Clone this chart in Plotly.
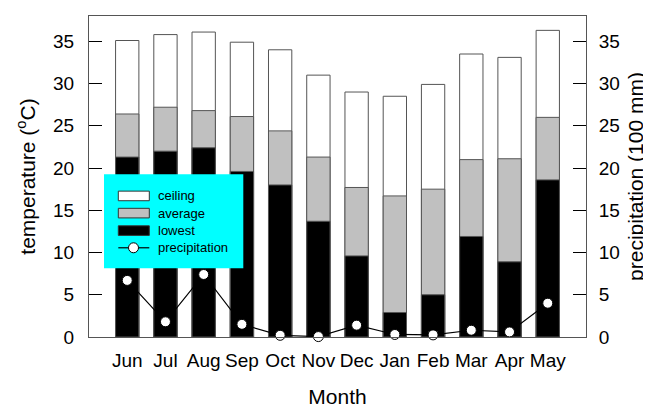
import plotly.graph_objects as go

months = ["Jun", "Jul", "Aug", "Sep", "Oct", "Nov", "Dec", "Jan", "Feb", "Mar", "Apr", "May"]
ceiling = [35.1, 35.8, 36.1, 34.9, 34.0, 31.0, 29.0, 28.5, 29.9, 33.5, 33.1, 36.3]
average = [26.4, 27.2, 26.8, 26.1, 24.4, 21.3, 17.7, 16.7, 17.5, 21.0, 21.1, 26.0]
lowest = [21.3, 22.0, 22.4, 19.6, 18.0, 13.7, 9.6, 2.9, 5.0, 11.9, 8.9, 18.6]
precipitation = [6.7, 1.8, 7.4, 1.5, 0.2, 0.05, 1.4, 0.3, 0.25, 0.8, 0.6, 4.0]

series_names = ["ceiling", "average", "lowest", "precipitation"]
FONT = "Liberation Sans, Arial, sans-serif"
OUTLINE = "#555555"

fig = go.Figure()
for name, vals, color in [("ceiling", ceiling, "white"),
                          ("average", average, "#c0c0c0"),
                          ("lowest", lowest, "black")]:
    fig.add_trace(go.Bar(x=months, y=vals, name=name, width=0.61,
                         marker=dict(color=color, line=dict(color=OUTLINE, width=1)),
                         showlegend=False))

fig.add_trace(go.Scatter(x=months, y=precipitation, name="precipitation", yaxis="y2",
                         mode="lines+markers", cliponaxis=False,
                         line=dict(color="black", width=1.2),
                         marker=dict(size=10, color="white", line=dict(color="black", width=1)),
                         showlegend=False))

tickvals = [0, 5, 10, 15, 20, 25, 30, 35]
fig.update_layout(
    width=643, height=400,
    margin=dict(l=81, r=65, t=8, b=71),
    paper_bgcolor="white", plot_bgcolor="white",
    barmode="overlay",
    font=dict(family=FONT, color="black", size=19),
    xaxis=dict(type="category", range=[-1, 12], showgrid=False, zeroline=False,
               showline=True, linecolor=OUTLINE, linewidth=1, mirror=True, ticks="",
               automargin=False,
               tickfont=dict(size=19), ticklabelstandoff=6,
               title=dict(text="Month", font=dict(size=21), standoff=26)),
    yaxis=dict(range=[0, 38], tickvals=tickvals, showgrid=False, zeroline=False,
               showline=True, linecolor=OUTLINE, linewidth=1, automargin=False,
               ticks="inside", ticklen=13, tickwidth=1.3, tickcolor="black",
               tickfont=dict(size=19), ticklabelstandoff=10,
               title=dict(text="temperature (<sup>o</sup>C)", font=dict(size=21), standoff=11)),
    yaxis2=dict(range=[0, 38], tickvals=tickvals, overlaying="y", side="right",
                showgrid=False, zeroline=False, showline=True, linecolor=OUTLINE, linewidth=1,
                automargin=False,
                ticks="inside", ticklen=13, tickwidth=1.3, tickcolor="black",
                tickfont=dict(size=19), ticklabelstandoff=8,
                title=dict(text="precipitation (100 mm)", font=dict(size=21), standoff=9)),
)

# legend drawn as a boxed key on the plot area
def py(px):
    return (337 - px) / 321.3
def pxx(px):
    return (px - 89) / 497

shapes = [dict(type="rect", xref="paper", yref="paper", x0=pxx(104), x1=pxx(243.3),
               y0=py(268.3), y1=py(174), fillcolor="#00ffff", line=dict(width=0), layer="above")]
centers = [195.8, 213.0, 230.5, 247.7]
fills = ["white", "#c0c0c0", "black"]
for c, f in zip(centers[:3], fills):
    shapes.append(dict(type="rect", xref="paper", yref="paper", x0=pxx(118.3), x1=pxx(149.3),
                       y0=py(c + 4.8), y1=py(c - 4.8), fillcolor=f,
                       line=dict(color="#333333", width=1), layer="above"))
shapes.append(dict(type="line", xref="paper", yref="paper", x0=pxx(118.3), x1=pxx(149.3),
                   y0=py(centers[3]), y1=py(centers[3]), line=dict(color="black", width=1.2),
                   layer="above"))
shapes.append(dict(type="circle", xref="paper", yref="paper", x0=pxx(128.5), x1=pxx(138.5),
                   y0=py(centers[3] + 5), y1=py(centers[3] - 5), fillcolor="white",
                   line=dict(color="black", width=1), layer="above"))
annotations = [dict(xref="paper", yref="paper", x=pxx(156), y=py(c), text=n, showarrow=False,
                    xanchor="left", yanchor="middle", font=dict(size=13, family=FONT, color="black"))
               for c, n in zip(centers, series_names)]
fig.update_layout(shapes=shapes, annotations=annotations)

fig.write_html("out.html")
